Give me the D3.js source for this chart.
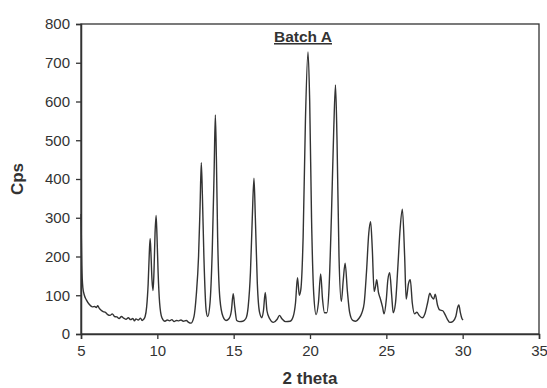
<!DOCTYPE html>
<html>
<head>
<meta charset="utf-8">
<script src="https://cdn.jsdelivr.net/npm/d3@7"></script>
<style>
  body { margin: 0; background: #fff; }
  svg { display: block; font-family: Arial, "Liberation Sans", sans-serif; }
</style>
</head>
<body>
<svg id="chart" width="547" height="388"></svg>
<script>
// diffractogram
const twoTheta = [
  5.00, 5.05, 5.12, 5.22, 5.35, 5.55, 5.75, 5.9, 6.0, 6.1, 6.2, 6.3, 6.45, 6.6, 6.75, 6.9, 7.05, 7.2,
  7.35, 7.5, 7.65, 7.8, 7.95, 8.1, 8.25, 8.4, 8.5, 8.6, 8.75, 8.9, 9.0, 9.1,
  9.2, 9.3, 9.4, 9.48, 9.53, 9.58, 9.65, 9.72, 9.78, 9.85, 9.92, 9.98, 10.05, 10.15, 10.3,
  10.5, 10.65, 10.8, 10.95, 11.1, 11.25, 11.4, 11.55, 11.7, 11.9, 12.05, 12.2, 12.4, 12.55, 12.7,
  12.8, 12.88, 12.95, 13.05, 13.2,
  13.3, 13.45, 13.6, 13.72, 13.8, 13.87, 13.95, 14.1, 14.3, 14.5, 14.7, 14.85, 14.97, 15.07, 15.2,
  15.4, 15.6, 15.8, 15.95, 16.1, 16.22, 16.33, 16.42, 16.55, 16.7, 16.85, 16.95, 17.07, 17.18, 17.35,
  17.6, 17.85, 18.0, 18.15, 18.4, 18.7, 18.9, 19.05, 19.18, 19.3, 19.4, 19.55, 19.7, 19.87, 19.98,
  20.1, 20.25, 20.4, 20.55, 20.7, 20.82, 20.95, 21.1, 21.25, 21.4, 21.55, 21.67, 21.77, 21.9, 22.05,
  22.18, 22.3, 22.45, 22.6, 22.8, 23.0, 23.2, 23.4, 23.55, 23.7, 23.85, 23.97, 24.08, 24.2, 24.3,
  24.37, 24.48, 24.6, 24.75, 24.85, 25.0, 25.1, 25.22, 25.35, 25.45, 25.6, 25.75, 25.9, 26.05, 26.2,
  26.3, 26.45, 26.57, 26.7, 26.85, 27.0, 27.15, 27.35, 27.55, 27.7, 27.85, 27.98, 28.1, 28.2, 28.35,
  28.5, 28.7, 28.85, 29.0, 29.15, 29.35, 29.55, 29.68, 29.75, 29.85, 29.95, 30.03
];
const cps = [
  310, 180, 120, 100, 88, 76, 70, 71, 68, 73, 66, 62, 58, 56, 50, 48, 52, 45,
  44, 40, 45, 41, 38, 42, 37, 40, 34, 39, 36, 41, 35, 38,
  45, 70, 130, 215, 246, 210, 140, 112, 160, 260, 306, 250, 160, 80, 42,
  33, 36, 34, 37, 32, 35, 34, 36, 33, 35, 30, 28, 45, 100, 200,
  330, 442, 360, 200, 60,
  45, 80, 220, 420, 565, 450, 250, 90, 45, 35, 40, 60, 104, 70, 35,
  32, 33, 40, 70, 160, 300, 402, 300, 130, 55, 42, 60, 107, 60, 40,
  30, 38, 48, 40, 32, 33, 45, 80, 145, 100, 115, 250, 550, 728, 600,
  300, 100, 50, 80, 155, 90, 55, 55, 120, 300, 520, 643, 500, 200, 84,
  140, 183, 110, 55, 35, 33, 40, 55, 80, 160, 260, 290, 220, 110, 125,
  140, 108, 92, 70, 52, 90, 140, 158, 100, 55, 80, 170, 270, 322, 200,
  90, 130, 140, 80, 52, 56, 48, 42, 55, 80, 105, 95, 90, 103, 75,
  62, 60, 50, 38, 30, 32, 45, 70, 75, 55, 40, 36
];

const xTicks = [5, 10, 15, 20, 25, 30, 35];
const yTicks = [0, 100, 200, 300, 400, 500, 600, 700, 800];

const W = 547, H = 388;
const margin = { top: 24, right: 8, bottom: 54, left: 81 };
const ink = "#333";

const svg = d3.select("#chart");

const x = d3.scaleLinear().domain([5, 35]).range([margin.left, W - margin.right]);
const y = d3.scaleLinear().domain([0, 800]).range([H - margin.bottom, margin.top]);

// frame
svg.append("rect")
  .attr("x", x(5)).attr("y", y(800))
  .attr("width", x(35) - x(5)).attr("height", y(0) - y(800))
  .attr("fill", "none").attr("stroke", ink).attr("stroke-width", 1.3);

const xAxis = svg.append("g")
  .attr("transform", `translate(0,${y(0)})`)
  .call(d3.axisBottom(x).tickValues(xTicks).tickSize(5).tickPadding(6));

const yAxis = svg.append("g")
  .attr("transform", `translate(${x(5)},0)`)
  .call(d3.axisLeft(y).tickValues(yTicks).tickSize(5).tickPadding(6));

[xAxis, yAxis].forEach(g => {
  g.select(".domain").attr("stroke", ink).attr("stroke-width", 1.5);
  g.selectAll(".tick line").attr("stroke", ink).attr("stroke-width", 1.3);
  g.selectAll(".tick text")
    .attr("fill", ink)
    .style("font-size", "15px")
    .style("font-family", "Arial, 'Liberation Sans', sans-serif");
});

// pattern
const pts = twoTheta.map((t, i) => [t, cps[i]]);
svg.append("path")
  .datum(pts)
  .attr("fill", "none")
  .attr("stroke", ink)
  .attr("stroke-width", 1.4)
  .attr("stroke-linejoin", "round")
  .attr("d", d3.line().x(d => x(d[0])).y(d => y(d[1])).curve(d3.curveMonotoneX));

// labels
svg.append("text")
  .attr("x", (x(5) + x(35)) / 2).attr("y", 384)
  .attr("text-anchor", "middle")
  .attr("font-size", 17).attr("font-weight", "bold").attr("fill", ink)
  .text("2 theta");

svg.append("text")
  .attr("transform", `translate(23,${(y(0) + y(800)) / 2}) rotate(-90)`)
  .attr("text-anchor", "middle")
  .attr("font-size", 17).attr("font-weight", "bold").attr("fill", ink)
  .text("Cps");

svg.append("text")
  .attr("x", 303).attr("y", 42)
  .attr("text-anchor", "middle")
  .attr("font-size", 15.5).attr("font-weight", "bold").attr("fill", ink)
  .attr("text-decoration", "underline")
  .text("Batch A");
</script>
</body>
</html>
